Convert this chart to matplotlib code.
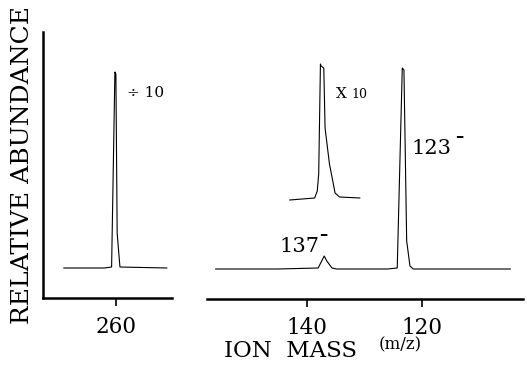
import matplotlib
matplotlib.use("Agg")
import matplotlib.pyplot as plt

plt.rcParams['font.family'] = ['DejaVu Serif']

# left trace (parent ion, divided by 10)
mass_hi = [269.0, 262.0, 260.74, 260.17, 260.0, 259.78, 259.3, 251.2]
abund_hi = [30, 30, 31, 226, 224, 65, 31, 30]

# right trace (fragment ions)
mass_lo = [155.7, 145.0, 137.99, 136.95, 136.5, 135.6, 134.8, 126.0,
           124.33, 123.46, 123.17, 122.7, 122.13, 121.56, 104.8]
abund_lo = [30, 30, 31, 43, 38, 31, 30, 30,
            31, 231, 229, 58, 33, 30, 30]

# 137 peak magnified x10 (drawn above)
mass_x10 = [142.9, 138.6, 138.15, 137.9, 137.6, 137.48, 137.02, 136.8,
            136.04, 135.47, 135.07, 134.3, 130.8]
abund_x10 = [99, 101, 108, 125, 235, 233, 231, 171,
             135, 118, 106, 102, 101]

W, H = 527, 369
fig = plt.figure(figsize=(W / 100, H / 100), dpi=100)

ax1 = fig.add_axes([43 / W, 1 - 298 / H, (172 - 43) / W, 266 / H])
ax2 = fig.add_axes([207 / W, 1 - 299 / H, (523 - 207) / W, 266 / H])

ax1.plot(mass_hi, abund_hi, color='black', lw=0.8)
ax2.plot(mass_lo, abund_lo, color='black', lw=0.8)
ax2.plot(mass_x10, abund_x10, color='black', lw=0.8)

ax1.set_xlim(272.6, 250.3)
ax2.set_xlim(157.2, 102.6)
for ax in (ax1, ax2):
    ax.set_ylim(0, 266)
    ax.set_yticks([])
    ax.spines['top'].set_visible(False)
    ax.spines['right'].set_visible(False)
    ax.spines['bottom'].set_linewidth(1.8)
    ax.tick_params(axis='x', direction='out', length=6, width=1.2,
                   labelsize=15.5, pad=7)
ax1.spines['left'].set_linewidth(1.8)
ax2.spines['left'].set_visible(False)
ax1.set_xticks([260])
ax2.set_xticks([140, 120])

ax1.text(258.0, 205, "÷ 10", fontsize=11, va='center', ha='left')
ax2.text(134.9, 205, "X", fontsize=11, va='center', ha='left')
ax2.text(132.2, 205, "10", fontsize=9, va='center', ha='left')
ax2.text(121.8, 151, "123", fontsize=15, va='center', ha='left')
ax2.text(114.4, 162, "–", fontsize=12, va='center', ha='left', fontweight='bold')
ax2.text(144.6, 53, "137", fontsize=15, va='center', ha='left')
ax2.text(137.9, 64, "–", fontsize=12, va='center', ha='left', fontweight='bold')

fig.text(23 / W, 1 - 165 / H, "RELATIVE ABUNDANCE", rotation=90,
         fontsize=18, va='center', ha='center')
fig.text(290 / W, 1 - 351 / H, "ION  MASS", fontsize=16.5, va='center', ha='center')
fig.text(400 / W, 1 - 345 / H, "(m/z)", fontsize=12, va='center', ha='center')

fig.savefig("out.png", dpi=100)
